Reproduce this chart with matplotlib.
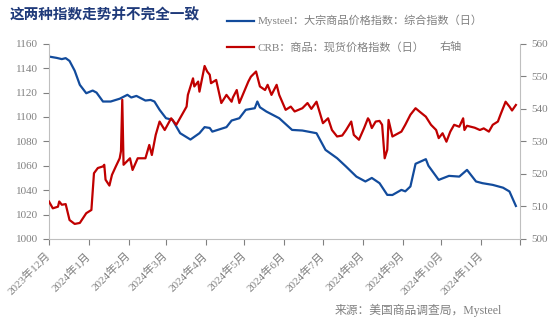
import pandas as pd
import matplotlib.pyplot as plt

plt.rcParams['font.family'] = ['Liberation Serif', 'Noto Sans CJK SC']

# Mysteel 大宗商品价格指数：综合指数（左轴）
mysteel_dates = [
    "2023-12-01", "2023-12-07", "2023-12-11", "2023-12-14", "2023-12-17", "2023-12-21",
    "2023-12-25", "2023-12-30", "2024-01-04", "2024-01-07", "2024-01-12", "2024-01-18",
    "2024-01-25", "2024-01-31", "2024-02-03", "2024-02-07", "2024-02-14", "2024-02-18",
    "2024-02-21", "2024-02-25", "2024-03-01", "2024-03-06", "2024-03-12", "2024-03-20",
    "2024-03-27", "2024-03-31", "2024-04-04", "2024-04-06", "2024-04-17", "2024-04-21",
    "2024-04-27", "2024-05-02", "2024-05-09", "2024-05-11", "2024-05-13", "2024-05-18",
    "2024-05-28", "2024-06-07", "2024-06-15", "2024-06-26", "2024-07-03", "2024-07-12",
    "2024-07-19", "2024-07-27", "2024-08-03", "2024-08-08", "2024-08-14", "2024-08-20",
    "2024-08-24", "2024-08-31", "2024-09-03", "2024-09-07", "2024-09-11", "2024-09-19",
    "2024-09-21", "2024-09-29", "2024-10-07", "2024-10-15", "2024-10-21", "2024-10-28",
    "2024-11-02", "2024-11-10", "2024-11-18", "2024-11-23", "2024-11-28",
]
mysteel_values = [
    1149.6, 1148.5, 1147.5, 1148.3, 1146.0, 1138.0,
    1126.4, 1119.5, 1121.7, 1120.0, 1112.7, 1112.7,
    1115.0, 1118.2, 1116.0, 1117.3, 1113.5, 1114.0,
    1112.7, 1105.9, 1099.0, 1097.7, 1086.7, 1081.5,
    1086.7, 1091.7, 1091.0, 1088.0, 1091.7, 1097.1,
    1099.0, 1105.9, 1107.2, 1112.7, 1108.0, 1104.5,
    1099.0, 1089.4, 1088.9, 1086.7, 1073.0, 1066.2,
    1059.3, 1051.1, 1047.1, 1050.0, 1045.7, 1036.1,
    1036.0, 1040.2, 1039.0, 1043.0, 1061.6, 1065.4,
    1060.0, 1048.4, 1051.7, 1051.1, 1056.6, 1047.1,
    1045.7, 1044.3, 1042.0, 1038.9, 1027.0,
]

# CRB 商品：现货价格指数（右轴）
crb_dates = [
    "2023-12-01", "2023-12-04", "2023-12-08", "2023-12-09", "2023-12-11", "2023-12-14",
    "2023-12-17", "2023-12-21", "2023-12-25", "2023-12-30", "2024-01-03", "2024-01-05",
    "2024-01-08", "2024-01-12", "2024-01-13", "2024-01-14", "2024-01-17", "2024-01-19",
    "2024-01-22", "2024-01-25", "2024-01-26", "2024-01-27", "2024-01-28", "2024-02-02",
    "2024-02-04", "2024-02-08", "2024-02-14", "2024-02-17", "2024-02-19", "2024-02-22",
    "2024-02-25", "2024-02-29", "2024-03-05", "2024-03-09", "2024-03-17", "2024-03-18",
    "2024-03-22", "2024-03-23", "2024-03-26", "2024-03-27", "2024-03-31", "2024-04-02",
    "2024-04-04", "2024-04-05", "2024-04-09", "2024-04-13", "2024-04-17", "2024-04-21",
    "2024-04-22", "2024-04-25", "2024-04-27", "2024-05-04", "2024-05-06", "2024-05-10",
    "2024-05-13", "2024-05-17", "2024-05-19", "2024-05-22", "2024-05-26", "2024-05-28",
    "2024-06-02", "2024-06-06", "2024-06-09", "2024-06-15", "2024-06-19", "2024-06-22",
    "2024-06-26", "2024-07-01", "2024-07-05", "2024-07-08", "2024-07-12", "2024-07-16",
    "2024-07-19", "2024-07-23", "2024-07-25", "2024-07-29", "2024-08-02", "2024-08-05",
    "2024-08-06", "2024-08-08", "2024-08-11", "2024-08-14", "2024-08-16", "2024-08-18",
    "2024-08-20", "2024-08-21", "2024-08-24", "2024-08-31", "2024-09-03", "2024-09-07",
    "2024-09-11", "2024-09-14", "2024-09-19", "2024-09-23", "2024-09-27", "2024-09-29",
    "2024-10-02", "2024-10-05", "2024-10-08", "2024-10-11", "2024-10-15", "2024-10-18",
    "2024-10-19", "2024-10-21", "2024-10-27", "2024-10-31", "2024-11-03", "2024-11-07",
    "2024-11-10", "2024-11-14", "2024-11-16", "2024-11-20", "2024-11-23", "2024-11-25",
    "2024-11-28",
]
crb_values = [
    511.5, 509.4, 509.9, 511.5, 510.5, 510.7,
    505.8, 504.6, 504.9, 507.9, 508.9, 520.2,
    521.8, 522.3, 522.8, 518.2, 516.4, 519.7,
    522.3, 524.8, 527.0, 542.8, 522.8, 524.8,
    521.2, 524.8, 524.8, 528.9, 525.8, 532.0,
    536.1, 533.5, 537.1, 535.1, 540.7, 544.3,
    549.4, 546.9, 548.4, 545.3, 553.2, 551.5,
    550.5, 547.9, 548.9, 541.8, 544.3, 542.2,
    543.5, 545.8, 541.8, 548.4, 549.9, 551.5,
    546.9, 545.8, 547.4, 544.3, 547.4, 544.3,
    539.7, 540.7, 539.2, 540.2, 541.8, 540.0,
    542.2, 535.6, 537.1, 533.5, 531.5, 531.8,
    533.5, 536.1, 532.0, 530.5, 534.1, 537.1,
    536.5, 534.1, 536.1, 536.3, 535.1, 524.8,
    527.4, 536.6, 531.5, 533.0, 535.1, 538.2,
    540.2, 539.2, 537.6, 535.1, 533.5, 531.0,
    532.5, 529.9, 533.0, 535.1, 534.5, 537.1,
    533.5, 534.8, 534.2, 533.5, 534.0, 533.0,
    535.1, 536.1, 538.2, 542.2, 540.7, 539.5,
    541.2,
]

month_starts = pd.date_range("2023-12-01", "2024-12-01", freq="MS")
month_labels = [f"{d.year}年{d.month}月" for d in month_starts[:-1]] + [""]

left_ticks = [1000, 1020, 1040, 1060, 1080, 1100, 1120, 1140, 1160]
right_ticks = [500, 510, 520, 530, 540, 550, 560]

blue = "#124b9c"
red = "#c00000"
grey = "#808080"
axis_grey = "#bfbfbf"

fig = plt.figure(figsize=(5.5, 3.25), dpi=100)
ax = fig.add_axes([0.089, 0.265, 0.856, 0.600])
ax2 = ax.twinx()

l1, = ax.plot(pd.to_datetime(mysteel_dates), mysteel_values, color=blue, lw=1.6,
              label="Mysteel：大宗商品价格指数：综合指数（日）")
l2, = ax2.plot(pd.to_datetime(crb_dates), crb_values, color=red, lw=1.6,
               label="CRB：商品：现货价格指数（日）")

ax.set_xlim(month_starts[0], month_starts[-1])
ax.set_ylim(1000, 1160)
ax2.set_ylim(500, 560)
ax.set_yticks(left_ticks)
ax2.set_yticks(right_ticks)
ax.set_xticks(month_starts)
ax.set_xticklabels(month_labels, rotation=45, ha="right", va="center",
                   rotation_mode="anchor")

for a in (ax, ax2):
    a.spines["top"].set_visible(False)
    for s in ("left", "right", "bottom"):
        a.spines[s].set_color(axis_grey)
    a.tick_params(colors=grey, labelsize=8, length=4, width=0.8, direction="out",
                  pad=4)
    a.tick_params(axis="x", pad=7)
ax.spines["right"].set_visible(False)
ax2.spines["left"].set_visible(False)
ax2.spines["bottom"].set_visible(False)

fig.text(0.018, 0.955, "这两种指数走势并不完全一致", fontsize=10.5, fontweight="bold",
         color="#1f3a7a", family=["Noto Sans CJK SC"], va="center")

fig.legend(handles=[l1, l2], loc="upper left", bbox_to_anchor=(0.395, 0.985),
           frameon=False, fontsize=8, labelcolor=grey, handlelength=2.4,
           labelspacing=1.4, handletextpad=0.3)
fig.text(0.80, 0.855, "右轴", fontsize=8, color=grey, va="center")

fig.text(0.76, 0.045, "来源：美国商品调查局，Mysteel", fontsize=8.5, color=grey,
         ha="center", va="center")

fig.savefig("out.png", dpi=100)
